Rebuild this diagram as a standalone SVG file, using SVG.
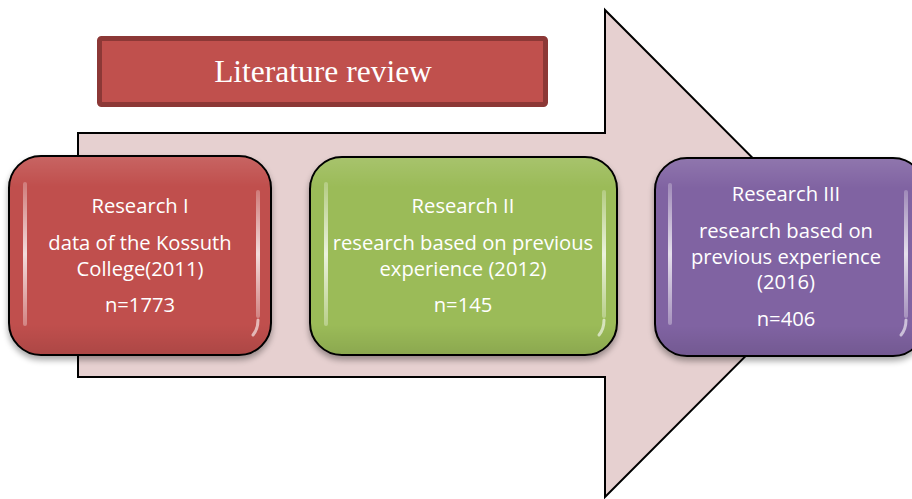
<svg xmlns="http://www.w3.org/2000/svg" width="912" height="499" viewBox="0 0 912 499">
  <defs>
    <style>
      .box { stroke: #000; stroke-width: 2; }
      .t { font-family: "Open Sans", "Liberation Sans", sans-serif; font-size: 20.2px; fill: #ffffff; text-anchor: middle; }
      .title { font-family: "Liberation Serif", "Times New Roman", serif; font-size: 31.5px; fill: #ffffff; text-anchor: middle; }
      .hl { fill: url(#hlg); }
      .hc { fill: none; stroke: #ffffff; stroke-opacity: 0.6; stroke-width: 3; stroke-linecap: round; }
    </style>
    <linearGradient id="hlg" x1="0" y1="0" x2="0" y2="1">
      <stop offset="0" stop-color="#ffffff" stop-opacity="0.25"/>
      <stop offset="0.5" stop-color="#ffffff" stop-opacity="0.8"/>
      <stop offset="1" stop-color="#ffffff" stop-opacity="0.3"/>
    </linearGradient>
    <linearGradient id="shade" x1="0" y1="0" x2="0" y2="1">
      <stop offset="0" stop-color="#ffffff" stop-opacity="0.12"/>
      <stop offset="0.15" stop-color="#ffffff" stop-opacity="0"/>
      <stop offset="0.85" stop-color="#000000" stop-opacity="0"/>
      <stop offset="1" stop-color="#000000" stop-opacity="0.1"/>
    </linearGradient>
    <filter id="sh" x="-10%" y="-10%" width="120%" height="130%">
      <feGaussianBlur in="SourceAlpha" stdDeviation="3"/>
      <feOffset dx="0" dy="4" result="b"/>
      <feComponentTransfer><feFuncA type="linear" slope="0.35"/></feComponentTransfer>
      <feMerge><feMergeNode/><feMergeNode in="SourceGraphic"/></feMerge>
    </filter>
  </defs>

  <rect x="0" y="0" width="912" height="499" fill="#ffffff"/>

  <g id="connectors">
    <path id="big-arrow" d="M78,133 L605,133 L605,10 L848,253.5 L605,497 L605,377 L78,377 Z" fill="#e6d0d0" stroke="#000" stroke-width="2" stroke-linejoin="miter"/>
  </g>

  <g id="title">
    <rect x="99.5" y="38.5" width="446" height="66" rx="2" fill="#c0504d" stroke="#8c3836" stroke-width="5"/>
    <text class="title" x="323" y="82">Literature review</text>
  </g>

  <g id="research1">
    <rect class="box" x="9" y="156" width="262" height="199" rx="32" fill="#c0504d" filter="url(#sh)"/>
    <rect x="10" y="157" width="260" height="197" rx="31" fill="url(#shade)"/>
    <rect class="hl" x="23" y="182" width="4" height="144" rx="2"/>
    <rect class="hl" x="256" y="190" width="4" height="128" rx="2"/>
    <path class="hc" d="M258,320 Q258,329 253,335"/>
    <text class="t" x="140" y="213">Research I</text>
    <text class="t" x="140" y="250">data of the Kossuth</text>
    <text class="t" x="140" y="276">College(2011)</text>
    <text class="t" x="140" y="312">n=1773</text>
  </g>

  <g id="research2">
    <rect class="box" x="310" y="157" width="307" height="198" rx="32" fill="#9bbb59" filter="url(#sh)"/>
    <rect x="311" y="158" width="305" height="196" rx="31" fill="url(#shade)"/>
    <rect class="hl" x="324" y="182" width="4" height="144" rx="2"/>
    <rect class="hl" x="602" y="190" width="4" height="128" rx="2"/>
    <path class="hc" d="M604,320 Q604,329 599,335"/>
    <text class="t" x="463" y="213">Research II</text>
    <text class="t" x="463" y="250">research based on previous</text>
    <text class="t" x="463" y="276">experience (2012)</text>
    <text class="t" x="463" y="312">n=145</text>
  </g>

  <g id="research3">
    <rect class="box" x="655" y="158" width="270" height="198" rx="32" fill="#8064a2" filter="url(#sh)"/>
    <rect x="656" y="159" width="268" height="196" rx="31" fill="url(#shade)"/>
    <rect class="hl" x="668" y="183" width="4" height="142" rx="2"/>
    <rect class="hl" x="904" y="190" width="4" height="128" rx="2"/>
    <path class="hc" d="M906,320 Q906,329 901,335"/>
    <text class="t" x="786" y="201">Research III</text>
    <text class="t" x="786" y="238">research based on</text>
    <text class="t" x="786" y="264">previous experience</text>
    <text class="t" x="786" y="289">(2016)</text>
    <text class="t" x="786" y="326">n=406</text>
  </g>
</svg>
